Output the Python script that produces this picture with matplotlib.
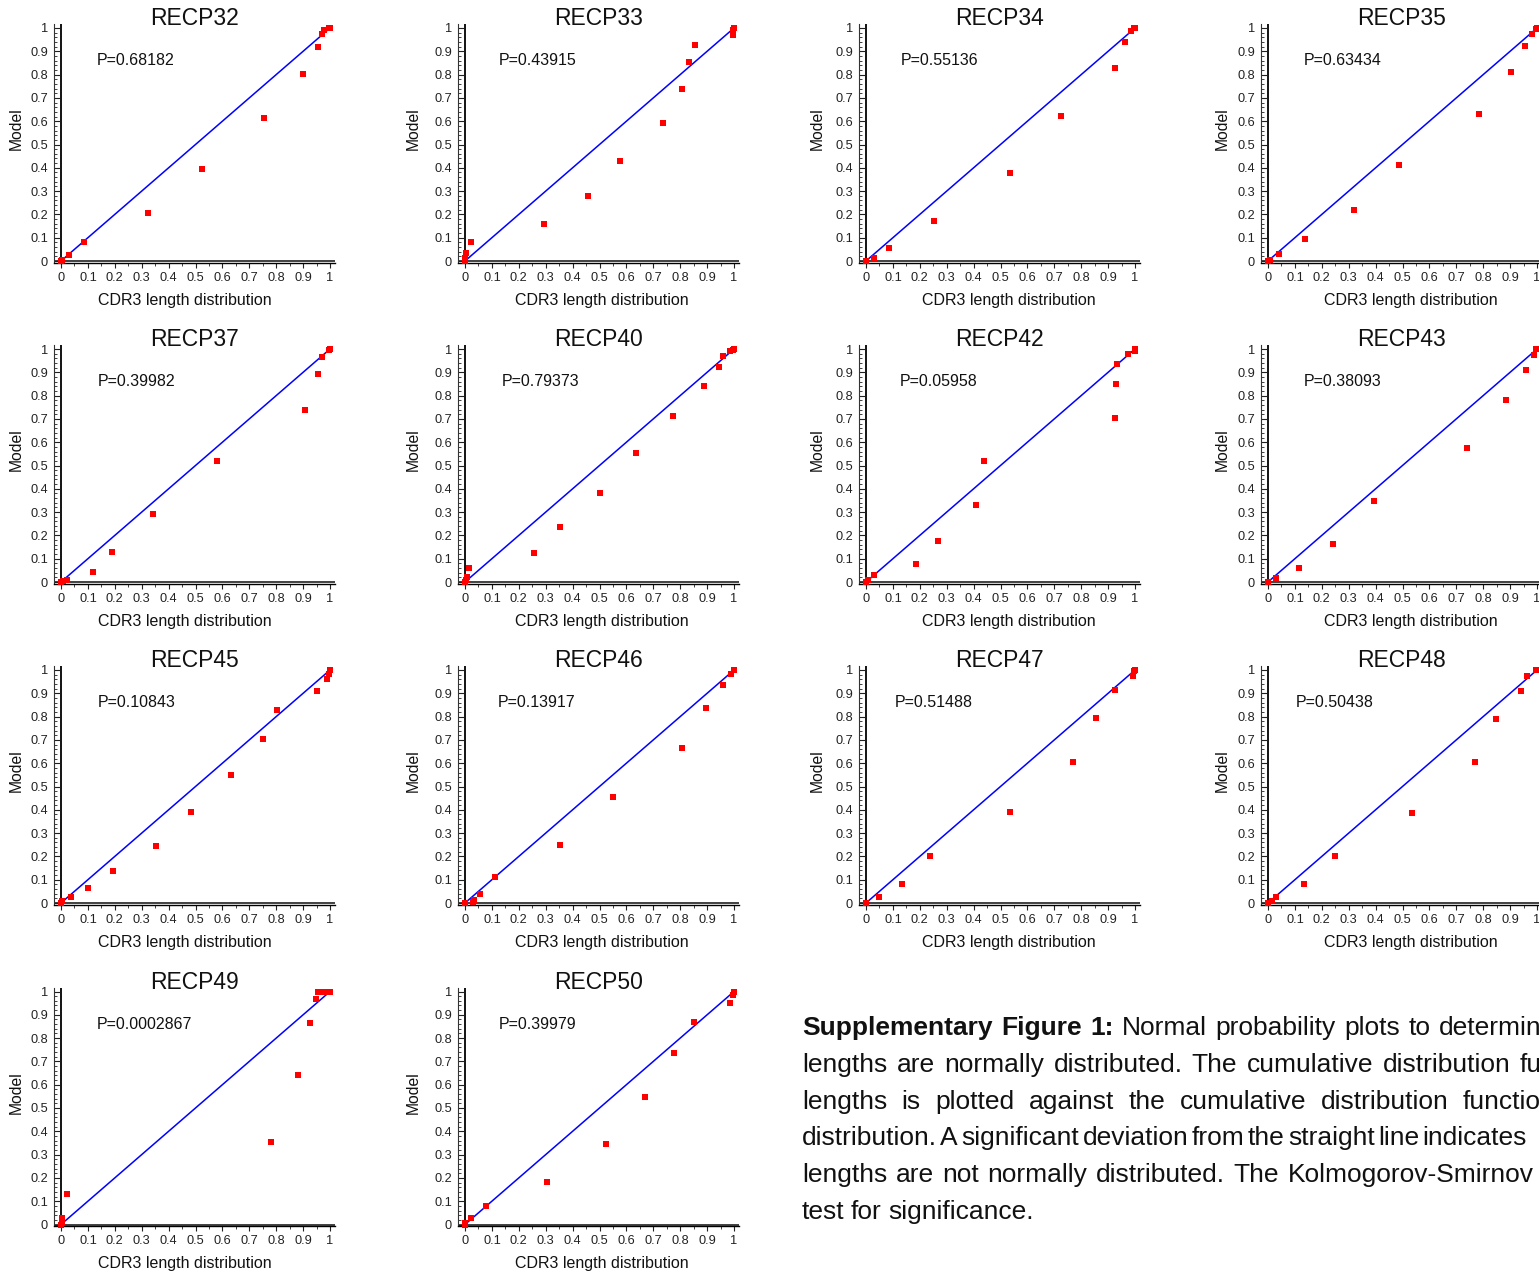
import matplotlib
matplotlib.use('Agg')
import matplotlib.pyplot as plt
from matplotlib.ticker import MultipleLocator

plt.rcParams['font.family'] = ['Liberation Sans', 'DejaVu Sans']

# ---------------- data ----------------
panel_names = ['RECP32', 'RECP33', 'RECP34', 'RECP35',
               'RECP37', 'RECP40', 'RECP42', 'RECP43',
               'RECP45', 'RECP46', 'RECP47', 'RECP48',
               'RECP49', 'RECP50']
p_values = ['0.68182', '0.43915', '0.55136', '0.63434',
            '0.39982', '0.79373', '0.05958', '0.38093',
            '0.10843', '0.13917', '0.51488', '0.50438',
            '0.0002867', '0.39979']

recp32_x = [0, 0.005, 0.03, 0.084, 0.322, 0.525, 0.756, 0.900, 0.954, 0.971, 0.976, 0.998, 1.0]
recp32_y = [0, 0.005, 0.026, 0.081, 0.204, 0.394, 0.613, 0.801, 0.919, 0.976, 0.993, 1.0, 1.0]
recp33_x = [0, 0.001, 0.004, 0.021, 0.294, 0.456, 0.575, 0.736, 0.805, 0.834, 0.854, 0.995, 0.998, 1.0]
recp33_y = [0, 0.011, 0.033, 0.083, 0.160, 0.280, 0.430, 0.593, 0.739, 0.853, 0.929, 0.969, 0.990, 1.0]
recp34_x = [0, 0.031, 0.085, 0.254, 0.537, 0.726, 0.927, 0.962, 0.985, 0.996, 1.0]
recp34_y = [0, 0.011, 0.057, 0.173, 0.376, 0.623, 0.827, 0.941, 0.986, 1.0, 1.0]
recp35_x = [0, 0.006, 0.040, 0.138, 0.320, 0.486, 0.784, 0.903, 0.955, 0.980, 0.998, 1.0]
recp35_y = [0, 0.003, 0.029, 0.094, 0.221, 0.414, 0.630, 0.811, 0.923, 0.974, 0.996, 1.0]
recp37_x = [0, 0.008, 0.023, 0.119, 0.191, 0.342, 0.579, 0.908, 0.957, 0.972, 0.996, 1.0]
recp37_y = [0, 0.003, 0.010, 0.041, 0.127, 0.292, 0.518, 0.740, 0.891, 0.967, 0.997, 1.0]
recp40_x = [0, 0.004, 0.009, 0.015, 0.257, 0.353, 0.501, 0.635, 0.773, 0.888, 0.943, 0.960, 0.985, 0.998, 1.0]
recp40_y = [0, 0.009, 0.023, 0.059, 0.126, 0.234, 0.383, 0.553, 0.711, 0.840, 0.923, 0.970, 0.990, 0.997, 1.0]
recp42_x = [0, 0.006, 0.030, 0.186, 0.267, 0.408, 0.437, 0.925, 0.931, 0.933, 0.974, 0.999, 1.0]
recp42_y = [0, 0.007, 0.029, 0.079, 0.177, 0.331, 0.520, 0.706, 0.849, 0.937, 0.979, 0.993, 1.0]
recp43_x = [0, 0.030, 0.116, 0.241, 0.394, 0.741, 0.883, 0.960, 0.989, 0.998]
recp43_y = [0, 0.016, 0.059, 0.163, 0.347, 0.574, 0.780, 0.911, 0.974, 0.999]
recp45_x = [0, 0.002, 0.038, 0.102, 0.193, 0.355, 0.482, 0.633, 0.750, 0.803, 0.951, 0.989, 0.998, 1.0]
recp45_y = [0, 0.009, 0.026, 0.063, 0.136, 0.244, 0.390, 0.550, 0.704, 0.827, 0.911, 0.961, 0.983, 1.0]
recp46_x = [0, 0.028, 0.034, 0.057, 0.112, 0.354, 0.550, 0.805, 0.896, 0.960, 0.989, 1.0]
recp46_y = [0, 0.003, 0.014, 0.037, 0.111, 0.251, 0.453, 0.667, 0.837, 0.937, 0.984, 1.0]
recp47_x = [0, 0.050, 0.133, 0.237, 0.536, 0.768, 0.854, 0.926, 0.991, 0.998, 1.0]
recp47_y = [0, 0.027, 0.083, 0.203, 0.389, 0.606, 0.793, 0.914, 0.974, 0.997, 1.0]
recp48_x = [0, 0.014, 0.031, 0.135, 0.248, 0.534, 0.770, 0.849, 0.941, 0.964, 0.996]
recp48_y = [0, 0.007, 0.026, 0.081, 0.203, 0.387, 0.604, 0.791, 0.911, 0.974, 0.999]
recp49_x = [0, 0.004, 0.005, 0.021, 0.782, 0.881, 0.927, 0.947, 0.957, 0.976, 0.995, 1.0]
recp49_y = [0, 0.006, 0.030, 0.131, 0.353, 0.640, 0.864, 0.967, 0.996, 1.0, 1.0, 1.0]
recp50_x = [0, 0.001, 0.021, 0.077, 0.306, 0.525, 0.670, 0.778, 0.851, 0.984, 0.995, 0.999]
recp50_y = [0, 0.007, 0.027, 0.079, 0.181, 0.344, 0.546, 0.734, 0.871, 0.950, 0.986, 1.0]

panel_x = [recp32_x, recp33_x, recp34_x, recp35_x, recp37_x, recp40_x, recp42_x,
           recp43_x, recp45_x, recp46_x, recp47_x, recp48_x, recp49_x, recp50_x]
panel_y = [recp32_y, recp33_y, recp34_y, recp35_y, recp37_y, recp40_y, recp42_y,
           recp43_y, recp45_y, recp46_y, recp47_y, recp48_y, recp49_y, recp50_y]

ref_line = [0, 1]
tick_values = [0, 0.1, 0.2, 0.3, 0.4, 0.5, 0.6, 0.7, 0.8, 0.9, 1.0]
tick_labels = ['0', '0.1', '0.2', '0.3', '0.4', '0.5', '0.6', '0.7', '0.8', '0.9', '1']
x_label = 'CDR3 length distribution'
y_label = 'Model'

caption_lines = [
    ['Supplementary', 'Figure', '1:', 'Normal', 'probability', 'plots', 'to', 'determine'],
    ['lengths', 'are', 'normally', 'distributed.', 'The', 'cumulative', 'distribution', 'function'],
    ['lengths', 'is', 'plotted', 'against', 'the', 'cumulative', 'distribution', 'function'],
    ['distribution.', 'A', 'significant', 'deviation', 'from', 'the', 'straight', 'line', 'indicates'],
    ['lengths', 'are', 'not', 'normally', 'distributed.', 'The', 'Kolmogorov-Smirnov'],
    ['test', 'for', 'significance.'],
]
n_bold_words = 3

# ---------------- layout ----------------
FIG_W, FIG_H = 1539, 1273
col_x0 = [61, 465, 866, 1268]          # pixel x of data x=0
row_y0 = [261, 582, 903, 1224.5]       # pixel y of data y=0
UNIT_W, UNIT_H = 269, 233
XLIM = (-0.026, 1.019)
YLIM = (-0.0065, 1.017)
p_text_x = [0.134, 0.126, 0.13, 0.134, 0.135, 0.136, 0.126, 0.134,
            0.135, 0.123, 0.108, 0.104, 0.134, 0.126]
xlabel_cx = [0.466, 0.512, 0.534, 0.534]
ylabel_x = [-0.135, -0.160, -0.148, -0.139]

caption_start_x = 802
caption_last_word_x = [1439, 1519.7, 1463, 1422.5, 1287.6, 888]   # justified lines
caption_base_y = 1035
caption_line_step = 36.8
caption_size = 19.0

fig = plt.figure(figsize=(FIG_W / 100, FIG_H / 100), dpi=100)

for i, name in enumerate(panel_names):
    r, c = divmod(i, 4)
    x0, y0 = col_x0[c], row_y0[r]
    left_px = x0 + XLIM[0] * UNIT_W
    width_px = (XLIM[1] - XLIM[0]) * UNIT_W
    top_px = y0 - YLIM[1] * UNIT_H
    bottom_px = y0 - YLIM[0] * UNIT_H
    ax = fig.add_axes([left_px / FIG_W, 1 - bottom_px / FIG_H,
                       width_px / FIG_W, (bottom_px - top_px) / FIG_H])
    ax.set_xlim(*XLIM)
    ax.set_ylim(*YLIM)
    ax.patch.set_alpha(0)

    ax.axvline(0, color='black', lw=1.3, zorder=1)
    ax.axhline(0, color='#333333', lw=1.3, zorder=1)
    ax.plot(ref_line, ref_line, color='#0000ff', lw=1.1, zorder=2)
    ax.plot(panel_x[i], panel_y[i], 's', color='#ff0000', ms=3.7, mew=0,
            clip_on=False, zorder=3)

    for s in ('top', 'right'):
        ax.spines[s].set_visible(False)
    ax.spines['left'].set_color('#333333')
    ax.spines['left'].set_linewidth(0.8)
    ax.spines['bottom'].set_color('black')
    ax.spines['bottom'].set_linewidth(1.0)

    ax.set_xticks(tick_values, tick_labels)
    ax.set_yticks(tick_values, tick_labels)
    ax.xaxis.set_minor_locator(MultipleLocator(0.05))
    ax.yaxis.set_minor_locator(MultipleLocator(0.02))
    ax.tick_params(axis='y', which='major', direction='in', length=4, width=0.8,
                   pad=4.3, labelsize=9.2, colors='#222222')
    ax.tick_params(axis='y', which='minor', direction='in', length=2, width=0.6,
                   colors='#222222')
    ax.tick_params(axis='x', which='major', direction='out', length=3.5, width=0.8,
                   pad=3, labelsize=9.2, colors='#222222')
    ax.tick_params(axis='x', which='minor', direction='out', length=2, width=0.6,
                   colors='#222222')

    ax.set_title(name, fontsize=16.5, y=1.0, pad=-0.8, color='#111111')
    ax.text(p_text_x[i], 0.86, 'P=' + p_values[i], fontsize=11.5, va='center',
            ha='left', color='#111111')
    ax.text(xlabel_cx[c], -0.159, x_label, transform=ax.transAxes, ha='center',
            va='center', fontsize=11.5, color='#111111')
    ax.text(ylabel_x[c], 0.56, y_label, transform=ax.transAxes, ha='center',
            va='center', rotation=90, fontsize=11.3, color='#111111')

# caption, justified word by word
renderer = fig.canvas.get_renderer()
for li, words in enumerate(caption_lines):
    yb = 1 - (caption_base_y + li * caption_line_step) / FIG_H
    texts = []
    for wi, word in enumerate(words):
        bold = (li == 0 and wi < n_bold_words)
        t = fig.text(0, yb, word, fontsize=caption_size,
                     fontweight='bold' if bold else 'normal',
                     ha='left', va='baseline', color='#111111')
        texts.append(t)
    widths = [t.get_window_extent(renderer).width for t in texts]
    gap = (caption_last_word_x[li] - caption_start_x - sum(widths[:-1])) / (len(words) - 1)
    x = caption_start_x
    for t, w in zip(texts, widths):
        t.set_x(x / FIG_W)
        x += w + gap

fig.savefig('out.png', dpi=100)
